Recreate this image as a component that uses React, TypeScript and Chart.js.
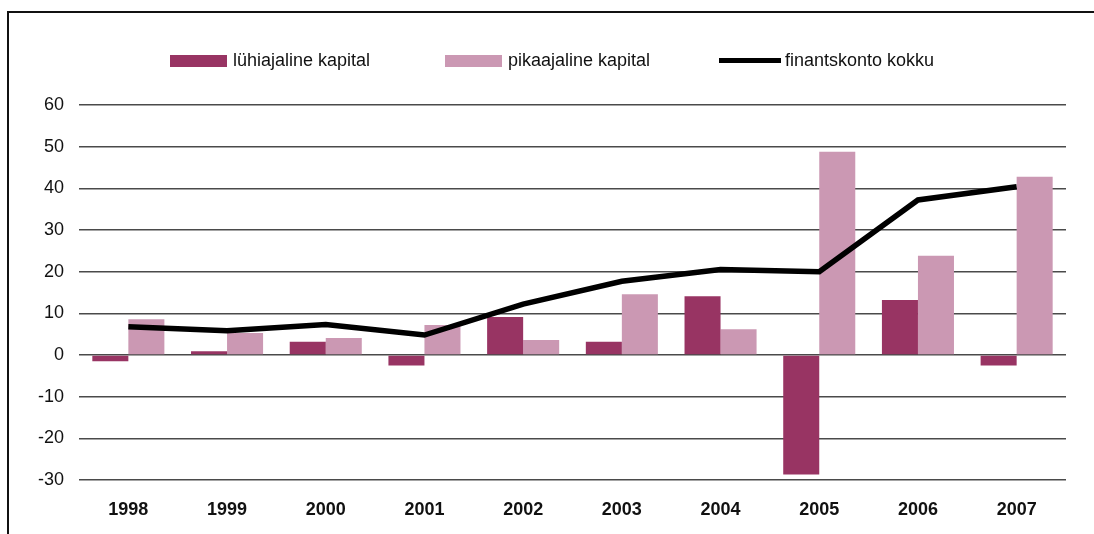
import React, { useEffect, useRef } from "react";
import { Chart, registerables } from "chart.js";

Chart.register(...registerables);

const years = ["1998", "1999", "2000", "2001", "2002", "2003", "2004", "2005", "2006", "2007"];
const shortTerm = [-1.5, 0.9, 3.2, -2.5, 9.1, 3.2, 14.1, -28.7, 13.2, -2.5];
const longTerm = [8.6, 5.3, 4.1, 7.2, 3.6, 14.6, 6.2, 48.8, 23.8, 42.8];
const total = [6.8, 5.8, 7.3, 4.8, 12.2, 17.7, 20.5, 20.0, 37.2, 40.4];
const seriesNames = ["lühiajaline kapital", "pikaajaline kapital", "finantskonto kokku"];

const DARK = "#983463";
const LIGHT = "#CB98B3";
const FONT = "'Liberation Sans', Arial, Helvetica, sans-serif";

export default function App() {
  const ref = useRef<HTMLCanvasElement | null>(null);

  useEffect(() => {
    if (!ref.current) return;
    const chart = new Chart(ref.current, {
      type: "bar",
      data: {
        labels: years,
        datasets: [
          {
            type: "bar",
            label: seriesNames[0],
            data: shortTerm,
            backgroundColor: DARK,
            order: 2,
            categoryPercentage: 0.73,
            barPercentage: 1,
          },
          {
            type: "bar",
            label: seriesNames[1],
            data: longTerm,
            backgroundColor: LIGHT,
            order: 2,
            categoryPercentage: 0.73,
            barPercentage: 1,
          },
          {
            type: "line",
            label: seriesNames[2],
            data: total,
            borderColor: "#000",
            borderWidth: 5.5,
            pointRadius: 0,
            tension: 0,
            borderJoinStyle: "miter",
            borderCapStyle: "butt",
            order: 0,
          } as any,
        ],
      },
      options: {
        animation: false,
        responsive: false,
        maintainAspectRatio: false,
        layout: { padding: { left: 0, right: 28, top: 105, bottom: 0 } },
        plugins: {
          legend: { display: false },
          tooltip: { enabled: false },
        },
        scales: {
          x: {
            grid: { display: false, drawTicks: false },
            border: { display: false },
            ticks: {
              padding: 19,
              color: "#111",
              font: { family: FONT, size: 18, weight: "bold" },
              maxRotation: 0,
            },
            afterFit: (s: any) => {
              s.height = 54;
            },
          },
          y: {
            min: -30,
            max: 60,
            grid: { color: "#4a4a4a", lineWidth: 1.5, drawTicks: false },
            border: { display: false },
            ticks: {
              stepSize: 10,
              padding: 15,
              color: "#111",
              font: { family: FONT, size: 18 },
            },
            afterFit: (s: any) => {
              s.width = 79;
            },
          },
        },
      },
    });
    return () => chart.destroy();
  }, []);

  const textStyle: React.CSSProperties = {
    position: "absolute",
    top: 49,
    fontFamily: FONT,
    fontSize: 18,
    color: "#111",
    lineHeight: "22px",
    whiteSpace: "nowrap",
  };

  return (
    <div style={{ position: "fixed", left: 0, top: 0, width: 1094, height: 534, overflow: "hidden", background: "#fff" }}>
      <canvas ref={ref} width={1094} height={534} style={{ position: "absolute", left: 0, top: 0, width: 1094, height: 534 }} />
      <div
        style={{
          position: "absolute",
          left: 7,
          top: 11,
          right: -10,
          bottom: -10,
          borderLeft: "2px solid #111",
          borderTop: "2px solid #111",
          pointerEvents: "none",
        }}
      />
      <div style={{ position: "absolute", left: 170, top: 55, width: 57, height: 12, background: DARK }} />
      <div style={{ ...textStyle, left: 233 }}>{seriesNames[0]}</div>
      <div style={{ position: "absolute", left: 445, top: 55, width: 57, height: 12, background: LIGHT }} />
      <div style={{ ...textStyle, left: 508 }}>{seriesNames[1]}</div>
      <div style={{ position: "absolute", left: 719, top: 58, width: 62, height: 5, background: "#000" }} />
      <div style={{ ...textStyle, left: 785 }}>{seriesNames[2]}</div>
    </div>
  );
}
